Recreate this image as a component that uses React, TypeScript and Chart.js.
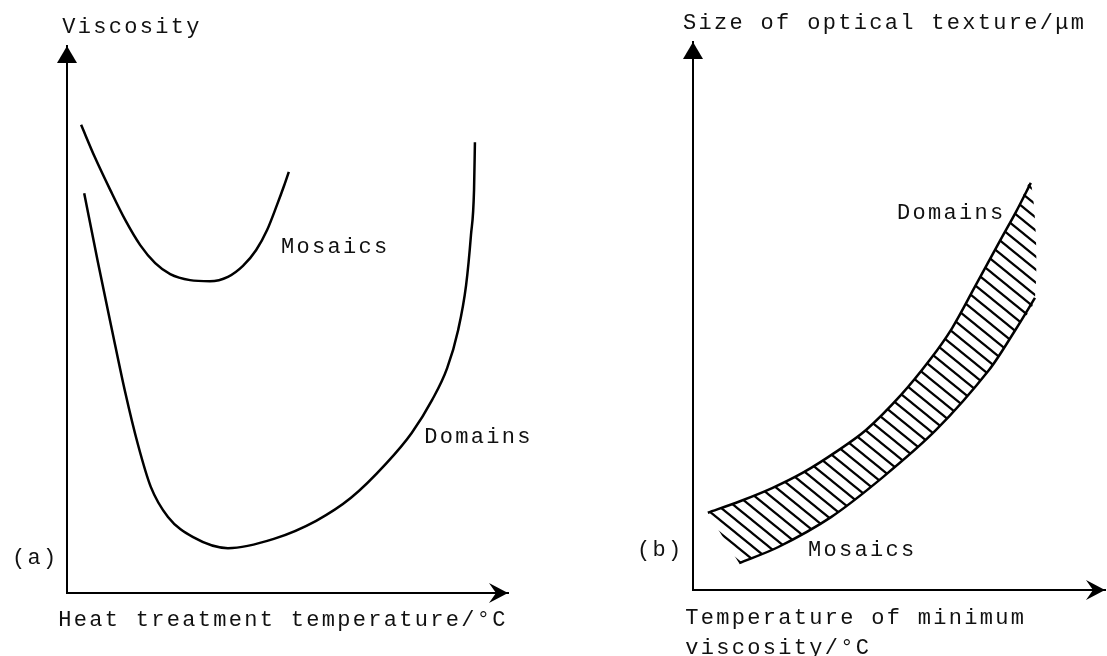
import React, { useEffect, useRef } from "react";
import { Chart, registerables } from "chart.js";
Chart.register(...registerables);

// ---------- Panel (a): viscosity vs heat treatment temperature (schematic, 0-100 units)
const mosaicsX = [3.2, 6.3, 9.8, 13.2, 16.6, 20.0, 23.4, 27.9, 32.4, 36.5, 39.9, 42.9, 45.4, 47.6, 49.2, 50.3];
const mosaicsY = [85.6, 79.7, 73.7, 68.2, 63.6, 60.3, 58.3, 57.2, 57.0, 57.8, 59.8, 62.7, 66.4, 70.9, 74.4, 77.0];
const domainsX = [3.9, 7.0, 10.2, 13.2, 16.1, 19.0, 22.9, 28.6, 36.5, 46.9, 56.5, 64.4, 72.3, 78.2, 82.8, 86.2, 88.7, 90.5, 91.6, 92.3, 92.5];
const domainsY = [73.1, 60.5, 48.1, 36.7, 27.1, 19.4, 13.9, 10.2, 8.2, 9.9, 13.2, 17.4, 23.6, 29.3, 35.3, 41.1, 48.1, 56.3, 65.4, 73.7, 82.4];

// ---------- Panel (b): size of optical texture vs temperature of minimum viscosity
const upperX = [3.6, 11.4, 19.2, 26.9, 34.7, 42.0, 50.5, 57.5, 62.9, 68.4, 74.5, 78.4, 82.0];
const upperY = [14.1, 16.2, 18.6, 21.5, 25.2, 29.2, 35.6, 42.0, 47.8, 55.3, 63.7, 69.0, 74.3];
const lowerX = [11.2, 20.6, 33.5, 46.1, 59.0, 71.8, 78.2, 83.0];
const lowerY = [4.9, 7.8, 13.3, 20.6, 29.2, 40.1, 47.4, 53.3];

// ---------- Text
const labelsA = [
  { text: "Viscosity", x: -1.1, y: 103.5 },
  { text: "Heat treatment temperature/°C", x: -2.0, y: -4.9 },
  { text: "(a)", x: -12.5, y: 6.4 },
  { text: "Mosaics", x: 48.5, y: 63.3 },
  { text: "Domains", x: 81.0, y: 28.5 },
];
const labelsB = [
  { text: "Size of optical texture/μm", x: -2.4, y: 103.5 },
  { text: "(b)", x: -13.6, y: 7.3 },
  { text: "Domains", x: 49.5, y: 68.8 },
  { text: "Mosaics", x: 27.9, y: 7.3 },
  { text: "Temperature of minimum", x: -1.9, y: -5.1 },
  { text: "viscosity/°C", x: -1.9, y: -10.6 },
];

const toPts = (xs: number[], ys: number[]) => xs.map((x, i) => ({ x, y: ys[i] }));

const decor = {
  id: "decor",
  afterDraw(chart: any, _args: any, opts: any) {
    const { ctx } = chart;
    const xs = chart.scales.x;
    const ys = chart.scales.y;
    const x0 = xs.left;
    const y0 = ys.bottom;
    const xEnd = xs.right;
    const yTop = ys.top;
    ctx.save();
    ctx.fillStyle = "#000";
    // up arrowhead
    ctx.beginPath();
    ctx.moveTo(x0, yTop);
    ctx.lineTo(x0 - 10, yTop + 17);
    ctx.lineTo(x0 + 10, yTop + 17);
    ctx.closePath();
    ctx.fill();
    // right arrowhead
    ctx.beginPath();
    ctx.moveTo(xEnd, y0);
    ctx.lineTo(xEnd - 19, y0 - 10);
    ctx.lineTo(xEnd - 12, y0);
    ctx.lineTo(xEnd - 19, y0 + 10);
    ctx.closePath();
    ctx.fill();
    // labels
    ctx.font = '22px "Liberation Mono", monospace';
    (ctx as any).letterSpacing = "2.3px";
    ctx.textBaseline = "middle";
    ctx.textAlign = "left";
    ctx.fillStyle = "#111";
    for (const l of opts.labels) {
      ctx.fillText(l.text, xs.getPixelForValue(l.x), ys.getPixelForValue(l.y));
    }
    ctx.restore();
  },
};

function makeHatch(): CanvasPattern | string {
  const w = 16;
  const h = 13;
  const c = document.createElement("canvas");
  c.width = w;
  c.height = h;
  const g = c.getContext("2d");
  if (!g) return "rgba(0,0,0,0.3)";
  g.strokeStyle = "#000";
  g.lineWidth = 2.2;
  for (let i = -2; i <= 2; i++) {
    g.beginPath();
    g.moveTo(i * w - 2 * w, -2 * h);
    g.lineTo(i * w + 2 * w, 2 * h);
    g.stroke();
  }
  return g.createPattern(c, "repeat") || "rgba(0,0,0,0.3)";
}

const axisScale = (pos: string) => ({
  type: "linear",
  position: pos,
  min: 0,
  max: 100,
  display: true,
  grid: { display: false, drawTicks: false },
  ticks: { display: false },
  border: { display: true, color: "#000", width: 2 },
});

function baseOptions(padding: any, labels: any[]) {
  return {
    responsive: false,
    animation: false,
    events: [],
    layout: { padding },
    scales: { x: axisScale("bottom"), y: axisScale("left") },
    plugins: {
      legend: { display: false },
      tooltip: { enabled: false },
      decor: { labels },
    },
    elements: { point: { radius: 0 } },
  };
}

function useChart(ref: React.RefObject<HTMLCanvasElement | null>, build: () => any) {
  useEffect(() => {
    if (!ref.current) return;
    const chart = new Chart(ref.current, build());
    return () => chart.destroy();
  }, []);
}

export default function App() {
  const refA = useRef<HTMLCanvasElement>(null);
  const refB = useRef<HTMLCanvasElement>(null);

  useChart(refA, () => ({
    type: "line",
    data: {
      datasets: [
        {
          label: "Mosaics",
          data: toPts(mosaicsX, mosaicsY),
          borderColor: "#000",
          borderWidth: 2.5,
          cubicInterpolationMode: "monotone",
          fill: false,
        },
        {
          label: "Domains",
          data: toPts(domainsX, domainsY),
          borderColor: "#000",
          borderWidth: 2.5,
          cubicInterpolationMode: "monotone",
          fill: false,
        },
      ],
    },
    options: baseOptions({ left: 67, top: 46, right: 52, bottom: 63 }, labelsA),
    plugins: [decor],
  }));

  useChart(refB, () => {
    const upper = toPts(upperX, upperY);
    const lower = toPts(lowerX, lowerY);
    const band = [...upper, ...lower.slice().reverse()];
    return {
      type: "line",
      data: {
        datasets: [
          {
            label: "band",
            data: band,
            borderColor: "rgba(0,0,0,0)",
            borderWidth: 0,
            backgroundColor: makeHatch(),
            fill: "shape",
            tension: 0.3,
          },
          {
            label: "Domains",
            data: upper,
            borderColor: "#000",
            borderWidth: 2.5,
            tension: 0.3,
            fill: false,
          },
          {
            label: "Mosaics",
            data: lower,
            borderColor: "#000",
            borderWidth: 2.5,
            tension: 0.3,
            fill: false,
          },
        ],
      },
      options: baseOptions({ left: 133, top: 42, right: 2, bottom: 66 }, labelsB),
      plugins: [decor],
    };
  });

  return (
    <div style={{ position: "absolute", left: 0, top: 0, width: 1107, height: 656, background: "#fff" }}>
      <div style={{ position: "absolute", left: 0, top: 0, width: 560, height: 656 }}>
        <canvas ref={refA} width={560} height={656} style={{ width: 560, height: 656, display: "block" }} />
      </div>
      <div style={{ position: "absolute", left: 560, top: 0, width: 547, height: 656 }}>
        <canvas ref={refB} width={547} height={656} style={{ width: 547, height: 656, display: "block" }} />
      </div>
    </div>
  );
}
